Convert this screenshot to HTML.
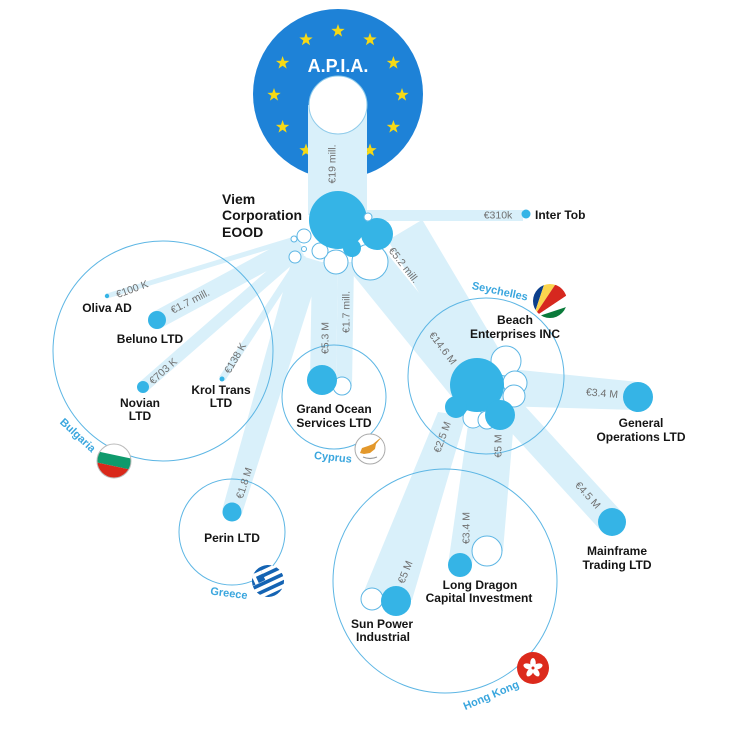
<!DOCTYPE html>
<html><head><meta charset="utf-8"><style>
html,body{margin:0;padding:0;background:#fff}
svg{display:block}
.n{font-family:"Liberation Sans",sans-serif;font-weight:bold;font-size:12px;fill:#151515;text-anchor:middle}
.v{font-family:"Liberation Sans",sans-serif;font-size:10.5px;fill:#707070;text-anchor:middle}
.c{font-family:"Liberation Sans",sans-serif;font-weight:bold;font-size:11px;fill:#3aa6de;text-anchor:middle}
</style></head><body>
<svg width="736" height="736" viewBox="0 0 736 736" xmlns="http://www.w3.org/2000/svg">
<defs>
<polygon id="st" points="0,-7 1.65,-2.27 6.66,-2.16 2.66,0.87 4.11,5.66 0,2.8 -4.11,5.66 -2.66,0.87 -6.66,-2.16 -1.65,-2.27" fill="#f6d915"/>
<clipPath id="c17"><circle cx="0" cy="0" r="17"/></clipPath>
<clipPath id="c16"><circle cx="0" cy="0" r="16"/></clipPath>
</defs>
<rect width="736" height="736" fill="#fff"/>

<!-- APIA -->
<circle cx="338" cy="94" r="85" fill="#1e82d7"/>
<use href="#st" x="338" y="31"/><use href="#st" x="370" y="39.6"/><use href="#st" x="393.4" y="63"/>
<use href="#st" x="402" y="95"/><use href="#st" x="393.4" y="127"/><use href="#st" x="370" y="150.4"/>
<use href="#st" x="338" y="159"/><use href="#st" x="306" y="150.4"/><use href="#st" x="282.6" y="127"/>
<use href="#st" x="274" y="95"/><use href="#st" x="282.6" y="63"/><use href="#st" x="306" y="39.6"/>
<text x="338" y="72" text-anchor="middle" style="font-family:'Liberation Sans',sans-serif;font-weight:bold;font-size:18px;fill:#fff">A.P.I.A.</text>

<!-- bands -->
<g fill="#d9f0fa" stroke="none">
<rect x="308" y="105" width="59" height="110"/>
<rect x="365" y="210" width="158" height="11"/>
<line x1="365" y1="258" x2="468" y2="385" stroke="#d9f0fa" stroke-width="40"/>
<line x1="405" y1="230" x2="488" y2="370" stroke="#d9f0fa" stroke-width="40"/>
<polygon points="312,262 338,262 336,380 310,380"/>
<polygon points="338,262 354,262 352,386 336,386"/>
<polygon points="293.6,253.7 322.4,262.3 241.6,514.9 222.4,509.1"/>
<line x1="298" y1="238" x2="107" y2="296" stroke="#d9f0fa" stroke-width="5"/>
<line x1="300" y1="243" x2="157" y2="320" stroke="#d9f0fa" stroke-width="18"/>
<line x1="300" y1="250" x2="143" y2="387" stroke="#d9f0fa" stroke-width="12"/>
<line x1="303" y1="255" x2="222" y2="379" stroke="#d9f0fa" stroke-width="7"/>
<polygon points="500,368 638,382 638,410 500,406"/>
<line x1="505" y1="405" x2="612" y2="522" stroke="#d9f0fa" stroke-width="28"/>
<polygon points="438,412 466,416 412,600 362,596"/>
<polygon points="468,425 490,425 472,565 448,565"/>
<polygon points="490,420 514,420 503,551 472,551"/>
</g>

<!-- APIA hole -->
<circle cx="338" cy="105" r="29" fill="#fff" stroke="#8fcbea" stroke-width="1"/>

<!-- country circles -->
<g fill="none" stroke="#5db6e4" stroke-width="1">
<circle cx="163" cy="351" r="110"/>
<circle cx="334" cy="397" r="52"/>
<circle cx="232" cy="532" r="53"/>
<circle cx="486" cy="376" r="78"/>
<circle cx="445" cy="581" r="112"/>
</g>

<!-- Viem cluster -->
<g fill="#fff" stroke="#5db6e4" stroke-width="1">
<circle cx="370" cy="262" r="18"/>
<circle cx="336" cy="262" r="12"/>
<circle cx="320" cy="251" r="8"/>
<circle cx="304" cy="236" r="7"/>
<circle cx="294" cy="239" r="3"/>
<circle cx="304" cy="249" r="2.5"/>
<circle cx="295" cy="257" r="6"/>
</g>
<g fill="#35b4e6">
<circle cx="338" cy="220" r="29"/>
<circle cx="377" cy="234" r="16"/>
<circle cx="352" cy="248" r="9"/>
</g>
<circle cx="368" cy="217" r="4" fill="#fff" stroke="#5db6e4"/>

<!-- Beach cluster -->
<g fill="#fff" stroke="#5db6e4" stroke-width="1">
<circle cx="506" cy="361" r="15"/>
<circle cx="515" cy="383" r="12"/>
<circle cx="514" cy="396" r="11"/>
<circle cx="473" cy="418" r="10"/>
<circle cx="487" cy="420" r="9"/>
</g>
<g fill="#35b4e6">
<circle cx="477" cy="385" r="27"/>
<circle cx="456" cy="407" r="11"/>
<circle cx="500" cy="415" r="15"/>
</g>

<!-- other nodes -->
<g fill="#fff" stroke="#5db6e4" stroke-width="1">
<circle cx="342" cy="386" r="9"/>
<circle cx="487" cy="551" r="15"/>
<circle cx="372" cy="599" r="11"/>
</g>
<g fill="#35b4e6">
<circle cx="526" cy="214" r="4.5"/>
<circle cx="107" cy="296" r="2.2"/>
<circle cx="157" cy="320" r="9"/>
<circle cx="143" cy="387" r="6"/>
<circle cx="222" cy="379" r="2.5"/>
<circle cx="322" cy="380" r="15"/>
<circle cx="232" cy="512" r="9.5"/>
<circle cx="638" cy="397" r="15"/>
<circle cx="612" cy="522" r="14"/>
<circle cx="460" cy="565" r="12"/>
<circle cx="396" cy="601" r="15"/>
</g>

<!-- value labels -->
<g class="v">
<text class="v" transform="translate(332,164) rotate(-90)" dy=".35em">€19 mill.</text>
<text class="v" transform="translate(498,215)" dy=".35em">€310k</text>
<text class="v" transform="translate(404,265) rotate(52)" dy=".35em">€5.2 mill.</text>
<text class="v" transform="translate(443,348) rotate(53)" dy=".35em">€14.6 M</text>
<text class="v" transform="translate(325,338) rotate(-90)" dy=".35em">€5.3 M</text>
<text class="v" transform="translate(346,312) rotate(-90)" dy=".35em">€1.7 mill.</text>
<text class="v" transform="translate(132,289) rotate(-20)" dy=".35em">€100 K</text>
<text class="v" transform="translate(190,301) rotate(-27)" dy=".35em">€1.7 mill.</text>
<text class="v" transform="translate(163,371) rotate(-42)" dy=".35em">€703 K</text>
<text class="v" transform="translate(235,358) rotate(-60)" dy=".35em">€138 K</text>
<text class="v" transform="translate(244,483) rotate(-72)" dy=".35em">€1.8 M</text>
<text class="v" transform="translate(602,393) rotate(5)" dy=".35em">€3.4 M</text>
<text class="v" transform="translate(588,495) rotate(48)" dy=".35em">€4.5 M</text>
<text class="v" transform="translate(442,437) rotate(-70)" dy=".35em">€2.5 M</text>
<text class="v" transform="translate(498,446) rotate(-90)" dy=".35em">€5 M</text>
<text class="v" transform="translate(466,528) rotate(-90)" dy=".35em">€3.4 M</text>
<text class="v" transform="translate(405,572) rotate(-68)" dy=".35em">€5 M</text>
</g>

<!-- node labels -->
<g style="font-family:'Liberation Sans',sans-serif;font-weight:bold;font-size:14px;fill:#151515">
<text x="222" y="204">Viem</text>
<text x="222" y="220">Corporation</text>
<text x="222" y="237">EOOD</text>
</g>
<text class="n" x="535" y="219" style="text-anchor:start">Inter Tob</text>
<text class="n" x="107" y="312">Oliva AD</text>
<text class="n" x="150" y="343">Beluno LTD</text>
<text class="n" x="140" y="407">Novian</text>
<text class="n" x="140" y="420">LTD</text>
<text class="n" x="221" y="394">Krol Trans</text>
<text class="n" x="221" y="407">LTD</text>
<text class="n" x="334" y="413">Grand Ocean</text>
<text class="n" x="334" y="427">Services LTD</text>
<text class="n" x="232" y="542">Perin LTD</text>
<text class="n" x="515" y="324">Beach</text>
<text class="n" x="515" y="338">Enterprises INC</text>
<text class="n" x="641" y="427">General</text>
<text class="n" x="641" y="441">Operations LTD</text>
<text class="n" x="617" y="555">Mainframe</text>
<text class="n" x="617" y="569">Trading LTD</text>
<text class="n" x="480" y="589">Long Dragon</text>
<text class="n" x="479" y="602">Capital Investment</text>
<text class="n" x="382" y="628">Sun Power</text>
<text class="n" x="383" y="641">Industrial</text>

<!-- country labels -->
<text class="c" transform="translate(78,435) rotate(43)" dy=".35em">Bulgaria</text>
<text class="c" transform="translate(333,457) rotate(6)" dy=".35em">Cyprus</text>
<text class="c" transform="translate(229,593) rotate(7)" dy=".35em">Greece</text>
<text class="c" transform="translate(500,291) rotate(12)" dy=".35em">Seychelles</text>
<text class="c" transform="translate(491,695) rotate(-23)" dy=".35em">Hong Kong</text>

<!-- Bulgaria flag -->
<g transform="translate(114,461)">
<g clip-path="url(#c17)" transform="rotate(12)">
<rect x="-20" y="-20" width="40" height="14" fill="#fff"/>
<rect x="-20" y="-6" width="40" height="11" fill="#0f9a6c"/>
<rect x="-20" y="5" width="40" height="16" fill="#d9281a"/>
</g>
<circle r="17" fill="none" stroke="#bbb" stroke-width="1"/>
</g>

<!-- Cyprus flag -->
<g transform="translate(370,449)">
<circle r="15" fill="#fff" stroke="#aaa" stroke-width="1"/>
<polygon points="-10,4 -8,-1 -2,-3 3,-5 9,-10 11,-11 6,-5 5,0 0,4 -6,5" fill="#e3982b"/>
<path d="M-7,8 Q0,11 7,8" fill="none" stroke="#999" stroke-width="1.2"/>
</g>

<!-- Greece flag -->
<g transform="translate(268,581)">
<g clip-path="url(#c16)" transform="rotate(-25)">
<rect x="-20" y="-20" width="40" height="40" fill="#fff"/>
<rect x="-20" y="-16" width="40" height="3.6" fill="#1463b3"/>
<rect x="-20" y="-8.8" width="40" height="3.6" fill="#1463b3"/>
<rect x="-20" y="-1.6" width="40" height="3.6" fill="#1463b3"/>
<rect x="-20" y="5.6" width="40" height="3.6" fill="#1463b3"/>
<rect x="-20" y="12.8" width="40" height="3.6" fill="#1463b3"/>
<rect x="-20" y="-20" width="18" height="18" fill="#1463b3"/>
<rect x="-20" y="-12.5" width="18" height="3.6" fill="#fff"/>
<rect x="-12.8" y="-20" width="3.6" height="18" fill="#fff"/>
</g>
</g>

<!-- Seychelles flag -->
<g transform="translate(550,301)">
<g clip-path="url(#c17)">
<polygon points="-17,17 -17,-17 -5.7,-17" fill="#0b3f8c"/>
<polygon points="-17,17 -5.7,-17 5.7,-17" fill="#fbd54e"/>
<polygon points="-17,17 5.7,-17 17,-17 17,-5.7" fill="#d6281f"/>
<polygon points="-17,17 17,-5.7 17,5.7" fill="#fff"/>
<polygon points="-17,17 17,5.7 17,17" fill="#0a7a3a"/>
</g>
</g>

<!-- Hong Kong flag -->
<g transform="translate(533,668)">
<circle r="16" fill="#dc2a1c"/>
<g fill="#fff">
<ellipse cx="0" cy="-5" rx="2.8" ry="5" transform="rotate(0)"/>
<ellipse cx="0" cy="-5" rx="2.8" ry="5" transform="rotate(72)"/>
<ellipse cx="0" cy="-5" rx="2.8" ry="5" transform="rotate(144)"/>
<ellipse cx="0" cy="-5" rx="2.8" ry="5" transform="rotate(216)"/>
<ellipse cx="0" cy="-5" rx="2.8" ry="5" transform="rotate(288)"/>
</g>
<circle r="1.5" fill="#dc2a1c"/>
</g>
</svg>
</body></html>
